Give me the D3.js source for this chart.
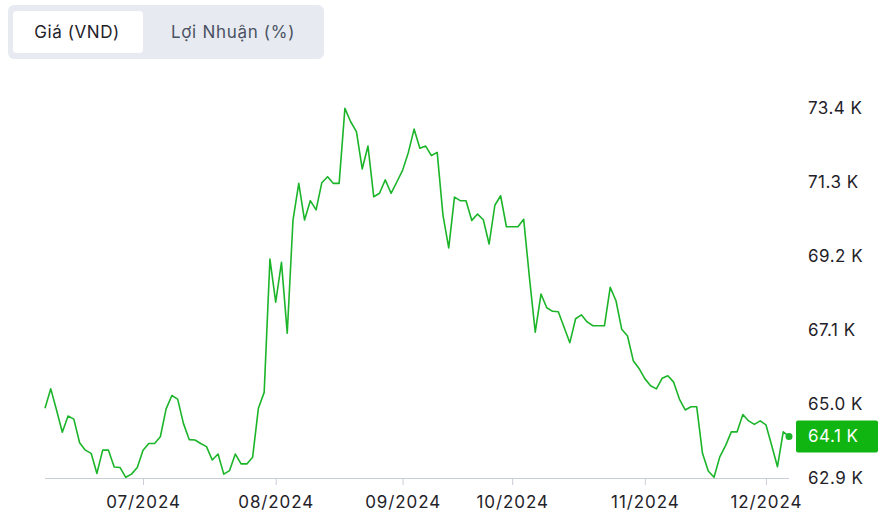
<!DOCTYPE html>
<html>
<head>
<meta charset="utf-8">
<script src="https://cdn.jsdelivr.net/npm/d3@7"></script>
<style>
  html, body { margin: 0; padding: 0; background: #ffffff; }
  svg { display: block; font-family: Inter, "Noto Sans", sans-serif; }
</style>
</head>
<body>
<svg id="chart" width="891" height="525"></svg>
<script>
// ---- data ----
const tabs = ["Giá (VND)", "Lợi Nhuận (%)"];

const prices = [
  64.88, 65.43, 64.83, 64.20, 64.66, 64.57, 63.90, 63.69, 63.60, 63.03,
  63.69, 63.69, 63.21, 63.20, 62.92, 63.01, 63.20, 63.69, 63.88, 63.88,
  64.07, 64.86, 65.24, 65.14, 64.45, 63.99, 63.98, 63.88, 63.79, 63.41,
  63.58, 63.01, 63.11, 63.58, 63.30, 63.30, 63.49, 64.88, 65.33, 69.11,
  67.89, 69.02, 67.01, 70.22, 71.26, 70.22, 70.77, 70.51, 71.28, 71.45,
  71.26, 71.26, 73.39, 73.01, 72.73, 71.67, 72.32, 70.88, 70.98, 71.36,
  70.98, 71.30, 71.63, 72.14, 72.80, 72.26, 72.32, 72.05, 72.14, 70.36,
  69.43, 70.87, 70.77, 70.77, 70.21, 70.39, 70.23, 69.54, 70.64, 70.91,
  70.03, 70.03, 70.03, 70.24, 68.58, 67.04, 68.12, 67.73, 67.63, 67.62,
  67.18, 66.74, 67.42, 67.53, 67.33, 67.22, 67.22, 67.22, 68.31, 67.93,
  67.12, 66.93, 66.23, 66.01, 65.72, 65.52, 65.43, 65.73, 65.80, 65.62,
  65.14, 64.83, 64.92, 64.92, 63.60, 63.10, 62.92, 63.50, 63.82, 64.21,
  64.21, 64.70, 64.52, 64.42, 64.52, 64.41, 63.82, 63.22, 64.21, 64.08
];

// trading-day index of the first session of each month, and its label
const monthTickIndex = [17, 40, 62, 81, 104, 125];
const monthTickLabels = ["07/2024", "08/2024", "09/2024", "10/2024", "11/2024", "12/2024"];

const yTicks = [62.9, 65.0, 67.1, 69.2, 71.3, 73.4];

// ---- layout ----
const svg = d3.select("#chart");
const lineColor = "#1cb52a";
const badgeColor = "#11b511";
const textColor = "#1f2229";

// tabs
const tabG = svg.append("g");
tabG.append("rect").attr("x", 8).attr("y", 5).attr("width", 316).attr("height", 54)
  .attr("rx", 6).attr("fill", "#e7ebf1");
tabG.append("rect").attr("x", 13).attr("y", 11).attr("width", 130).attr("height", 42)
  .attr("rx", 4).attr("fill", "#ffffff");
tabG.append("text").attr("x", 77).attr("y", 32).attr("dy", "0.35em")
  .attr("text-anchor", "middle").attr("font-size", 17).attr("letter-spacing", 0.6)
  .attr("fill", textColor).text(tabs[0]);
tabG.append("text").attr("x", 233).attr("y", 32).attr("dy", "0.35em")
  .attr("text-anchor", "middle").attr("font-size", 17).attr("letter-spacing", 0.7)
  .attr("fill", "#4b5263").text(tabs[1]);

// scales
const x = d3.scaleLinear().domain([0, prices.length - 1]).range([45, 789]);
const y = d3.scaleLinear().domain([62.9, 73.4]).range([478, 108]);

// x axis
const xAxis = d3.axisBottom(x)
  .tickValues(monthTickIndex)
  .tickFormat((d, i) => monthTickLabels[i])
  .tickSize(7)
  .tickPadding(11);
const xg = svg.append("g").attr("transform", "translate(0,478)").call(xAxis);
xg.select(".domain").attr("stroke", "#c9cdd6").attr("d", "M45,0.5H789");
xg.selectAll(".tick line").attr("stroke", "#c9cdd6");
xg.selectAll(".tick text").attr("font-size", 17).attr("letter-spacing", 0.9)
  .attr("fill", textColor).attr("font-family", "Inter, 'Noto Sans', sans-serif");

// y axis (labels only)
const yAxis = d3.axisRight(y)
  .tickValues(yTicks)
  .tickFormat(d => d.toFixed(1) + " K")
  .tickSize(0)
  .tickPadding(0);
const yg = svg.append("g").attr("transform", "translate(808,0)").call(yAxis);
yg.select(".domain").remove();
yg.selectAll(".tick text").attr("font-size", 17).attr("letter-spacing", 0.5)
  .attr("fill", textColor).attr("font-family", "Inter, 'Noto Sans', sans-serif");

// line
const line = d3.line().x((d, i) => x(i)).y(d => y(d));
svg.append("path").datum(prices).attr("d", line)
  .attr("fill", "none").attr("stroke", lineColor).attr("stroke-width", 1.6)
  .attr("stroke-linejoin", "round");

// last point
const lastI = prices.length - 1;
const last = prices[lastI];
svg.append("circle").attr("cx", x(lastI)).attr("cy", y(last)).attr("r", 3.5).attr("fill", lineColor);

// badge
const by = y(last);
svg.append("rect").attr("x", 796).attr("y", by - 16).attr("width", 82).attr("height", 32)
  .attr("rx", 2).attr("fill", badgeColor);
svg.append("text").attr("x", 808).attr("y", by).attr("dy", "0.35em")
  .attr("font-size", 17).attr("letter-spacing", 0.5).attr("fill", "#ffffff").text(last.toFixed(1) + " K");
</script>
</body>
</html>
